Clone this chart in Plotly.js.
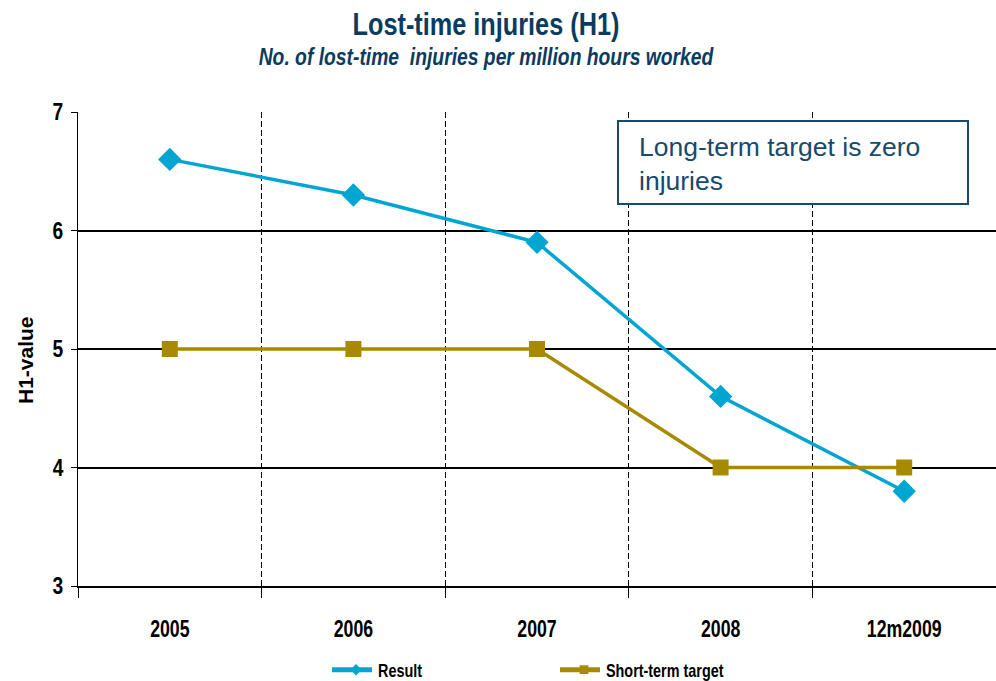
<!DOCTYPE html>
<html>
<head>
<meta charset="utf-8">
<script src="https://cdn.plot.ly/plotly-3.0.1.min.js"></script>
<style>html,body{margin:0;padding:0;background:#fff;}#chart{width:996px;height:681px;}</style>
</head>
<body>
<div id="chart"></div>
<script>
const categories = ["2005", "2006", "2007", "2008", "12m2009"];
const resultValues = [6.6, 6.3, 5.9, 4.6, 3.8];
const targetValues = [5, 5, 5, 4, 4];
const yTicks = [3, 4, 5, 6, 7];

const SANS = "Liberation Sans, Arial, sans-serif";
const NAVY = "#0B3B5E";
const BOXNAVY = "#164A6E";

// pixel helpers for layout (not data)
const L = 78, T = 112, PW = 918, PH = 474;
const px = v => (v - L) / PW;
const py = v => (T + PH - v) / PH;

const traces = [
  {
    x: categories, y: resultValues, name: "Result", type: "scatter", mode: "lines+markers",
    line: {color: "#00A6D1", width: 3.5},
    marker: {symbol: "diamond", size: 18, color: "#00A6D1"}
  },
  {
    x: categories, y: targetValues, name: "Short-term target", type: "scatter", mode: "lines+markers",
    line: {color: "#A88A00", width: 3.5},
    marker: {symbol: "square", size: 16, color: "#A88A00"}
  }
];

const layout = {
  width: 996, height: 681,
  margin: {l: L, r: 0, t: T, b: 95, autoexpand: false},
  paper_bgcolor: "#fff", plot_bgcolor: "#fff",
  title: {
    text: "<b>Lost-time injuries (H1)</b>",
    font: {family: SANS, size: 32, color: NAVY},
    x: 486/996, xanchor: "center", xref: "container",
    y: 1 - 24/681, yanchor: "middle", yref: "container"
  },
  showlegend: true,
  legend: {
    orientation: "h", x: px(330), xanchor: "left", y: py(670), yanchor: "middle",
    font: {family: SANS, size: 18, color: "#000", weight: "bold"},
    entrywidth: 175, itemwidth: 38, bgcolor: "rgba(0,0,0,0)"
  },
  xaxis: {
    type: "category", range: [-0.5, 4.5], automargin: false,
    tickson: "boundaries", showgrid: true, gridcolor: "#000", gridwidth: 1, griddash: "6px,3px",
    ticks: "outside", ticklen: 10, tickcolor: "#000", tickwidth: 1,
    tickfont: {family: SANS, size: 23, color: "#000", weight: "bold"},
    ticklabelstandoff: 21,
    showline: true, linecolor: "#000", linewidth: 2, zeroline: false, fixedrange: true
  },
  yaxis: {
    range: [3, 7], tickvals: yTicks, ticktext: yTicks.map(String), automargin: false,
    showgrid: true, gridcolor: "#000", gridwidth: 2,
    ticks: "outside", ticklen: 6, tickcolor: "#000", tickwidth: 1,
    tickfont: {family: SANS, size: 24, color: "#000", weight: "bold"},
    ticklabelstandoff: 3,
    showline: true, linecolor: "#000", linewidth: 1, zeroline: false, fixedrange: true
  },
  shapes: [
    {type: "rect", xref: "paper", yref: "paper", x0: px(618), x1: px(968), y0: py(204), y1: py(121),
     line: {color: BOXNAVY, width: 2}, fillcolor: "#fff", layer: "above"}
  ],
  annotations: [
    {
      text: "<i><b>No. of lost-time  injuries per million hours worked</b></i>",
      xref: "paper", yref: "paper", x: px(486), y: py(57),
      xanchor: "center", yanchor: "middle", showarrow: false,
      font: {family: SANS, size: 23, color: NAVY}
    },
    {
      text: "Long-term target is zero<br>injuries",
      xref: "paper", yref: "paper", x: px(637), y: py(164),
      xanchor: "left", yanchor: "middle", showarrow: false, align: "left",
      font: {family: SANS, size: 26.5, color: BOXNAVY}
    },
    {
      text: "<b>H1-value</b>",
      xref: "paper", yref: "paper", x: px(25), y: py(360), textangle: -90,
      xanchor: "center", yanchor: "middle", showarrow: false,
      font: {family: SANS, size: 21, color: "#000"}
    }
  ]
};

function condense(el, s) {
  const bb = el.getBBox();
  const anchor = el.getAttribute("text-anchor") || "start";
  const cx = anchor === "middle" ? bb.x + bb.width / 2 : (anchor === "end" ? bb.x + bb.width : bb.x);
  const t = el.getAttribute("transform") || "";
  el.setAttribute("transform", (t + " translate(" + cx + ",0) scale(" + s + ",1) translate(" + (-cx) + ",0)").trim());
}

Plotly.newPlot("chart", traces, layout, {displayModeBar: false, staticPlot: true}).then(gd => {
  gd.querySelectorAll(".gtitle").forEach(e => condense(e, 0.79));
  gd.querySelectorAll(".xtick text").forEach(e => condense(e, 0.77));
  gd.querySelectorAll(".ytick text").forEach(e => condense(e, 0.8));
  gd.querySelectorAll(".legendtext").forEach(e => condense(e, 0.8));
  const ann = gd.querySelectorAll(".annotation-text");
  if (ann[0]) condense(ann[0], 0.84);
  // legend glyphs: longer, thicker line and smaller marker like the original key
  gd.querySelectorAll(".legend .legendlines path").forEach(p => {
    p.setAttribute("d", "M2,0h40");
    p.style.strokeWidth = "5px";
  });
  gd.querySelectorAll(".legend .legendpoints path.scatterpts").forEach(p => {
    const t = p.getAttribute("transform") || "";
    p.setAttribute("transform", t + " translate(2,0) scale(0.55)");
  });
});
</script>
</body>
</html>
